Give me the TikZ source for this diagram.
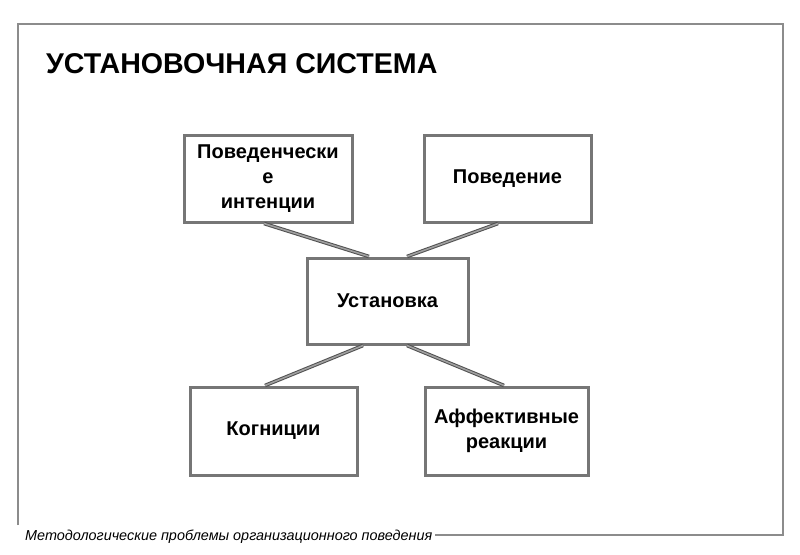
\documentclass[tikz,border=0pt]{standalone}
\usepackage{fontspec}
\setmainfont{Liberation Sans}
\usetikzlibrary{positioning}
\definecolor{framegray}{HTML}{8C8C8C}
\definecolor{boxgray}{HTML}{767676}
\definecolor{linkdark}{HTML}{505050}
\definecolor{linklight}{HTML}{A0A0A0}
\tikzset{
  box/.style={draw=boxgray, line width=3pt, fill=white, minimum height=87pt,
    align=center, inner sep=0pt, font=\fontsize{20}{25}\selectfont\bfseries},
  link/.style={draw=linkdark, line width=1pt, double=linklight, double distance=1.6pt},
  frameline/.style={draw=framegray, line width=1.5pt}
}
\begin{document}
\begin{tikzpicture}[x=1pt,y=-1pt]
\useasboundingbox (0,0) rectangle (800,554);
\fill[white] (0,0) rectangle (800,554);
% frame
\coordinate (fl) at (18,525);
\coordinate (ftl) at (18,24);
\coordinate (ftr) at (783,24);
\coordinate (fbr) at (783,535);
\coordinate (fbl) at (435,535);
\draw[frameline] (fl) -- (ftl) -- (ftr) -- (fbr) -- (fbl);
% title
\node[anchor=west, inner sep=0pt, font=\fontsize{28.6}{30}\selectfont\bfseries] (title) at (46,63.5) {УСТАНОВОЧНАЯ СИСТЕМА};
% footer
\node[anchor=west, inner sep=0pt, font=\fontsize{14.4}{15}\selectfont\itshape] (foot) at (25,537) {Методологические проблемы организационного поведения};
% boxes
\node[box, minimum width=168pt] (b1) at (268,178.5) {Поведенчески\\е\\интенции};
\node[box, minimum width=167pt] (b2) at (507.5,178.5) {Поведение};
\node[box, minimum width=161pt, minimum height=86pt] (b3) at (387.5,301) {Установка};
\node[box, minimum width=167pt, minimum height=88pt] (b4) at (273.5,431) {Когниции};
\node[box, minimum width=163pt, minimum height=88pt] (b5) at (506.5,431) {Аффективные\\реакции};
% links
\draw[link] ([xshift=-4pt]b1.south) -- ([xshift=-18.5pt]b3.north);
\draw[link] ([xshift=-9.5pt]b2.south) -- ([xshift=19.5pt]b3.north);
\draw[link] ([xshift=-24.5pt]b3.south) -- ([xshift=-8.5pt]b4.north);
\draw[link] ([xshift=19.5pt]b3.south) -- ([xshift=-2.5pt]b5.north);
\end{tikzpicture}
\end{document}
